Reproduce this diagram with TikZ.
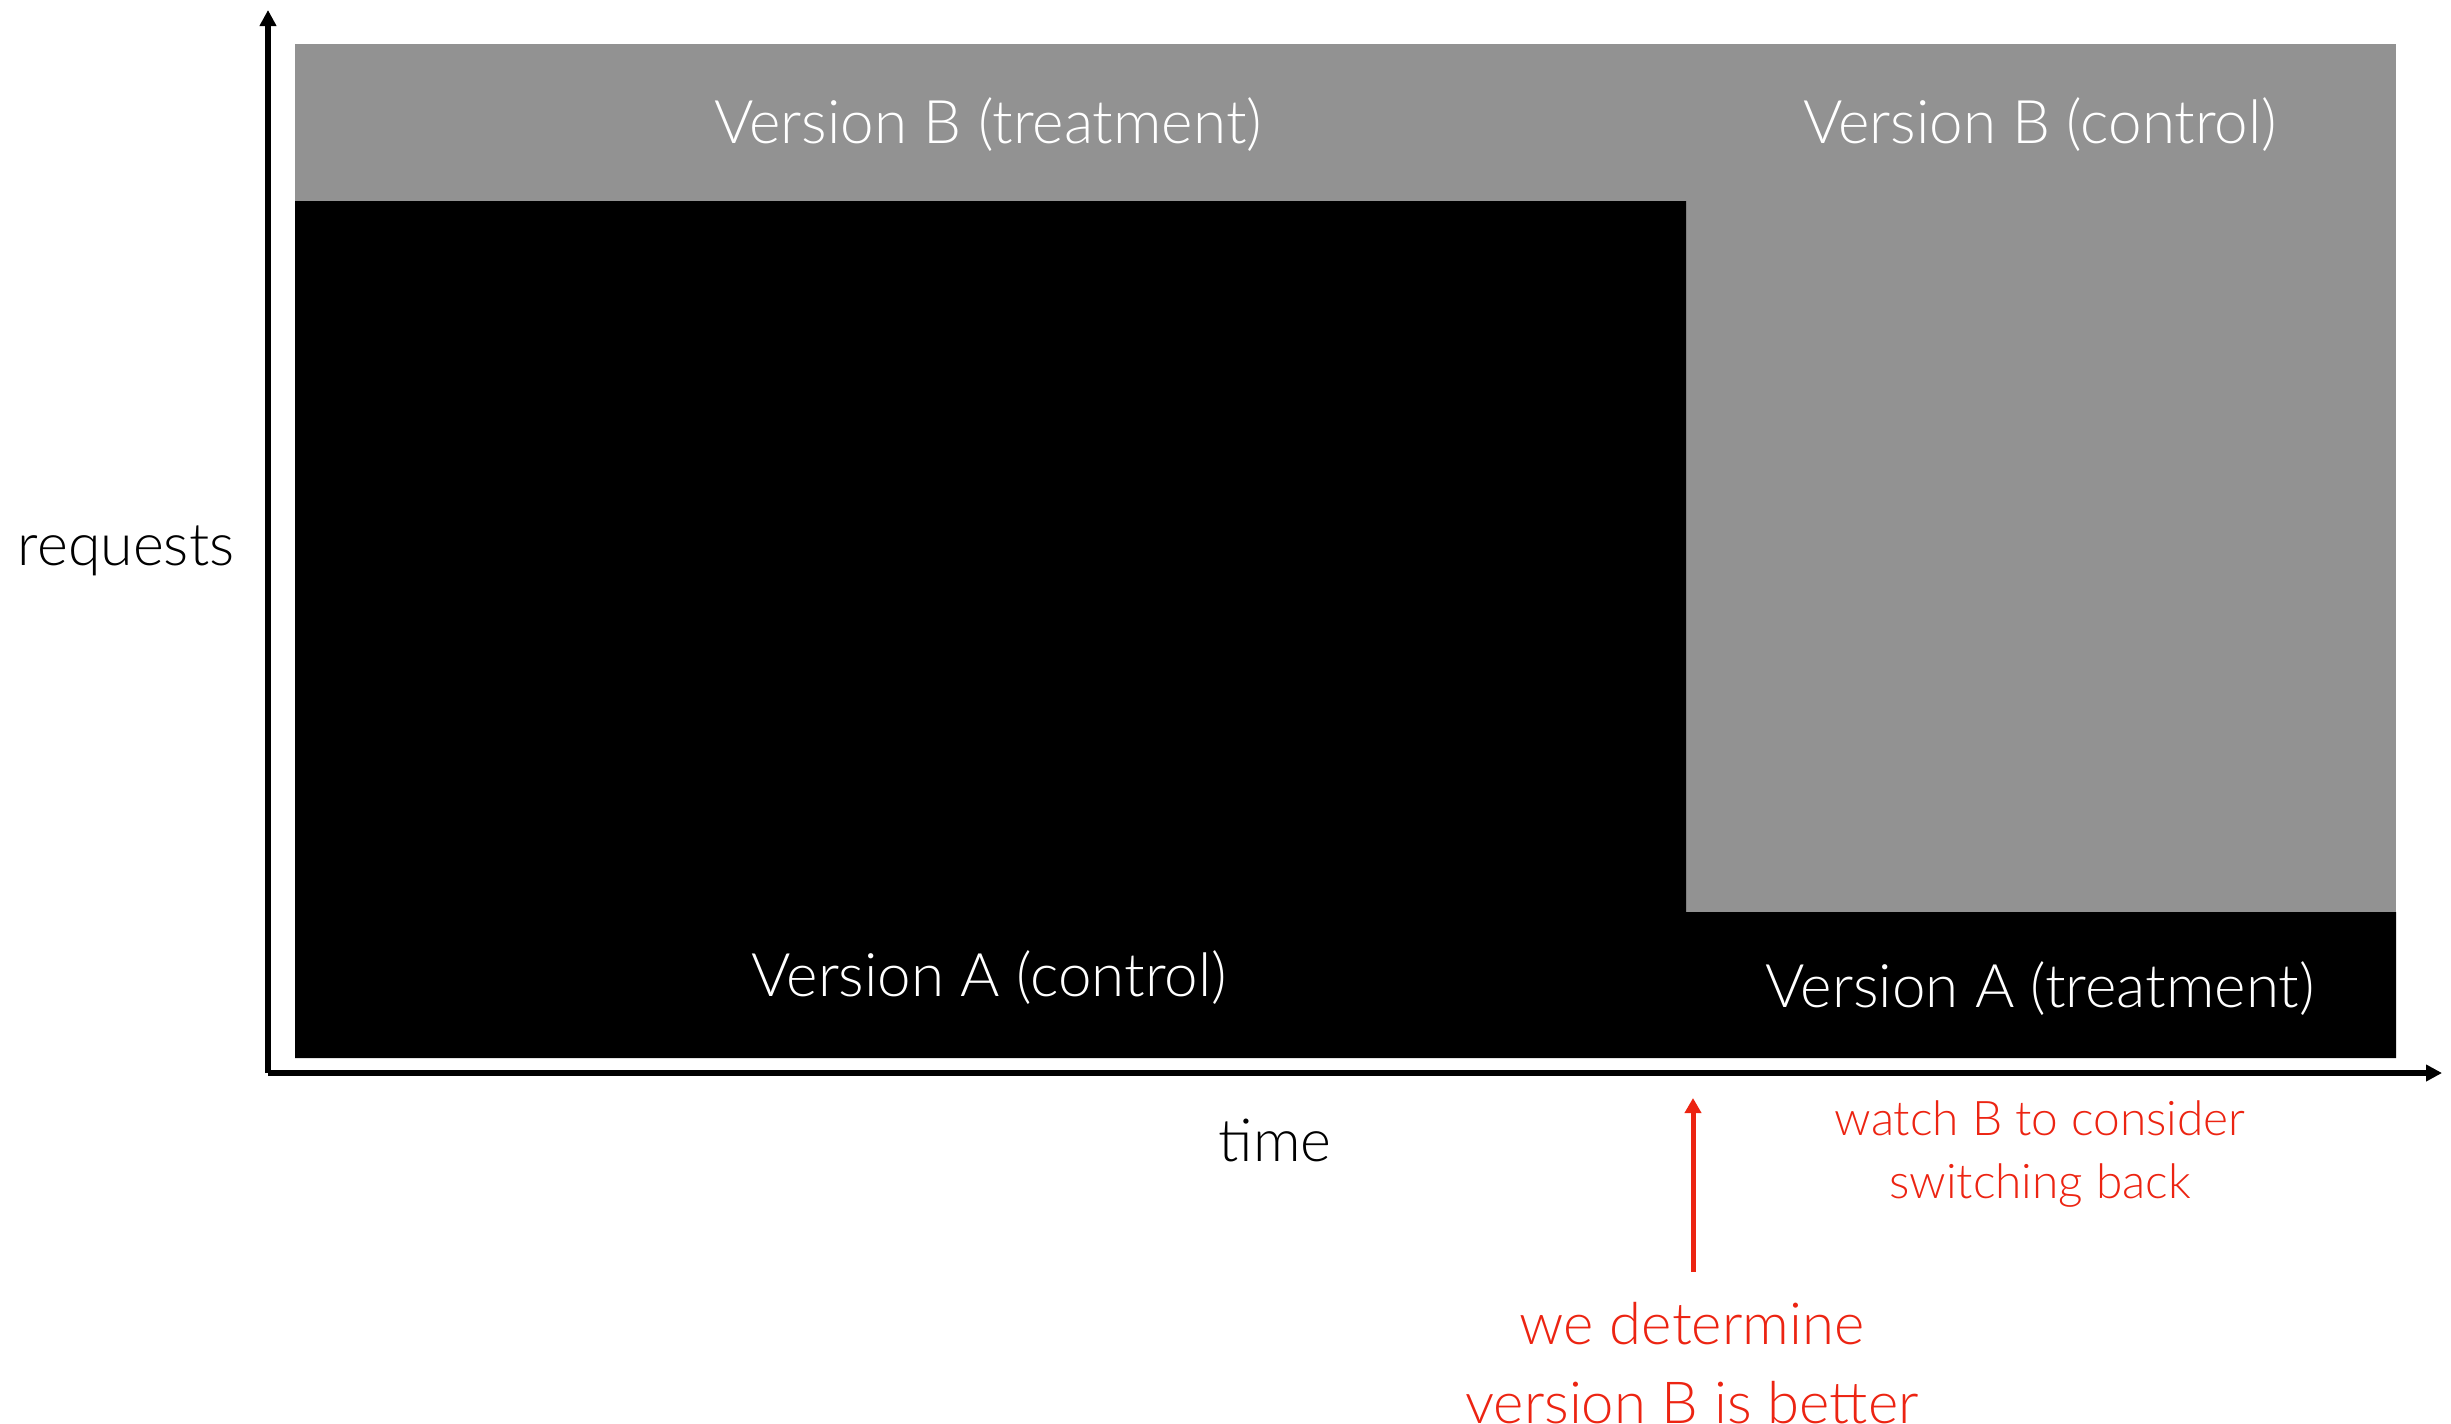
\documentclass[tikz,border=0pt]{standalone}
\usepackage{fontspec}
\setmainfont{Lato Light}
\usetikzlibrary{arrows.meta}

\definecolor{panelgray}{RGB}{146,146,146}
\definecolor{notered}{RGB}{236,36,18}

\begin{document}
\begin{tikzpicture}[
  x=0.01cm, y=-0.01cm,
  axisline/.style={line width=0.06cm, -{Triangle[length=0.16cm,width=0.16cm]}},
  notearrow/.style={draw=notered, line width=0.05cm, -{Triangle[length=0.15cm,width=0.16cm]}},
  bandlabel/.style={text=white, inner sep=0pt, anchor=base, font=\fontsize{17.1}{20}\selectfont},
  axislabel/.style={text=black, inner sep=0pt, anchor=base, font=\fontsize{16.8}{20}\selectfont},
  smallnote/.style={text=notered, inner sep=0pt, anchor=north, align=center, font=\fontsize{13.6}{18}\selectfont},
  bignote/.style={text=notered, inner sep=0pt, anchor=north, align=center, font=\fontsize{16.5}{22.2}\selectfont},
]
\useasboundingbox (0,0) rectangle (2451,1424);

% traffic shares over time
\fill[panelgray] (295,44) rectangle (2396,1058);
\fill[black] (295,201) -- (1686,201) -- (1686,912) -- (2396,912)
             -- (2396,1058) -- (295,1058) -- cycle;

% axes
\coordinate (origin) at (268,1073);
\coordinate (ytip) at (268,10);
\coordinate (xtip) at (2442,1073);
\draw[axisline] (origin) -- (ytip);
\draw[axisline] (origin) -- (xtip);

% band labels
\node[bandlabel] (btreat) at (988,143) {Version B (treatment)};
\node[bandlabel] (bctrl) at (2040,143) {Version B (control)};
\node[bandlabel] (actrl) at (989,996) {Version A (control)};
\node[bandlabel] (atreat) at (2040,1007) {Version A (treatment)};

% axis labels
\node[axislabel] (ylabel) at (126,565) {requests};
\node[axislabel] (xlabel) at (1275,1161) {time};

% annotations
\node[smallnote] (watch) at (2040,1100) {watch B to consider\\switching back};
\node[bignote] (decide) at (1692,1302) {we determine\\version B is better};
\coordinate (switchpt) at (1693,1098);
\draw[notearrow, shorten <=0.3cm] (decide.north -| switchpt) -- (switchpt);
\end{tikzpicture}
\end{document}
